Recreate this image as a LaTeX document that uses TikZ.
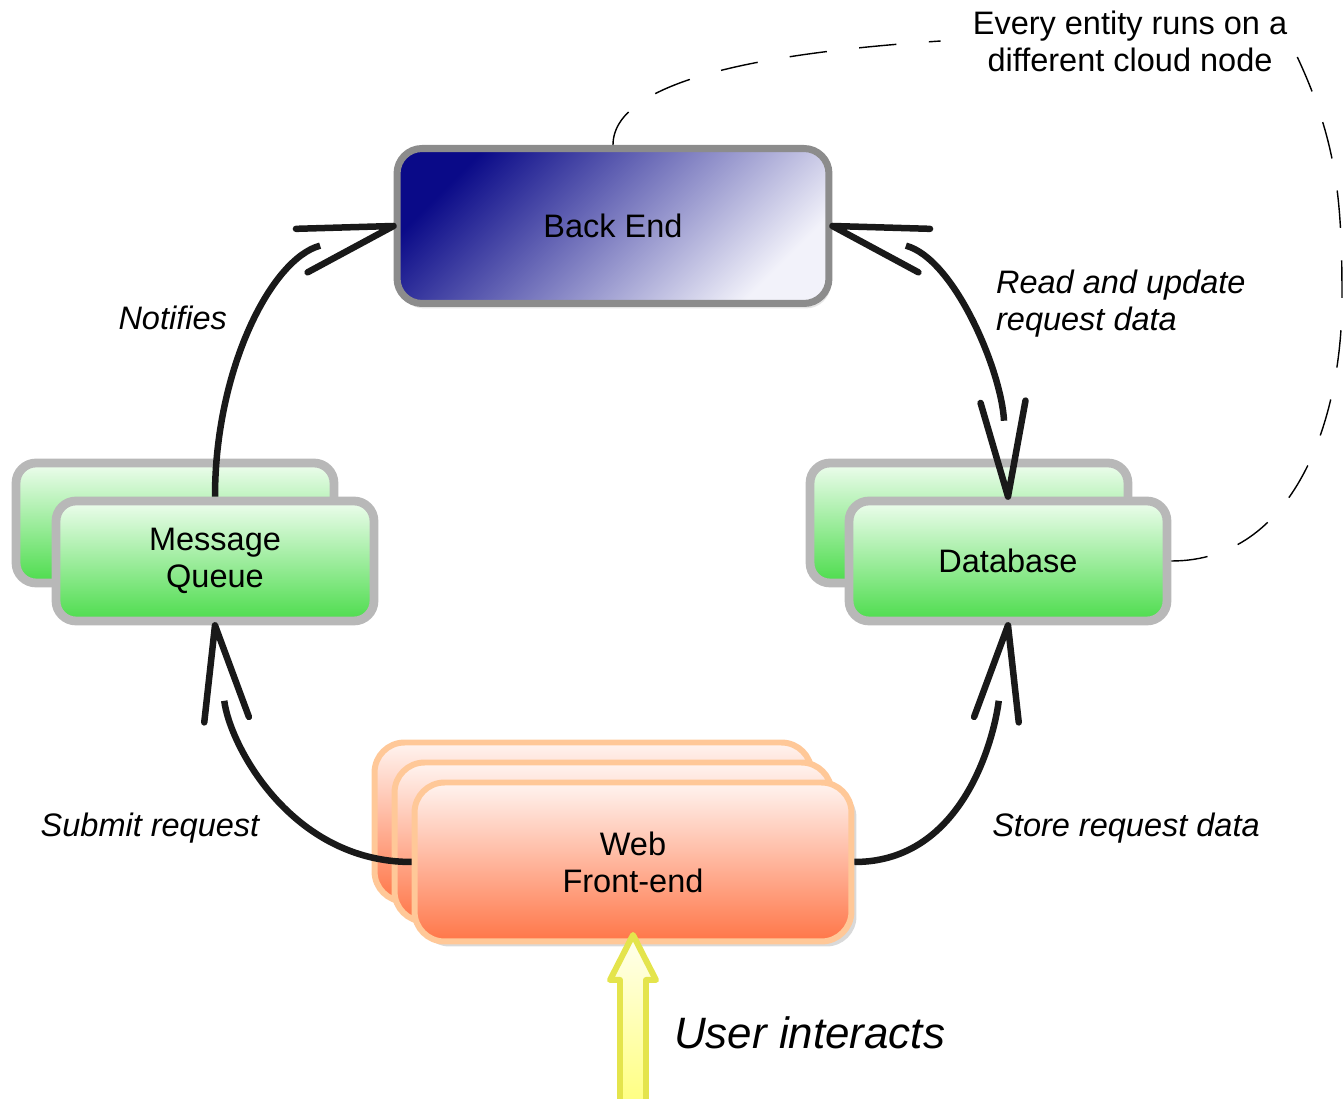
\documentclass[tikz,border=0pt]{standalone}
\usepackage{fontspec}
\setmainfont{Liberation Sans}
\usepackage{tikz}
\usetikzlibrary{arrows.meta, positioning, calc, shadows}
\newcommand{\boxfont}{\fontsize{18.5}{21}\selectfont}
\newcommand{\bigfont}{\fontsize{25}{30}\selectfont}
\definecolor{navyend}{RGB}{10,10,136}
\definecolor{paleend}{RGB}{242,242,250}
\definecolor{greentop}{RGB}{238,253,238}
\definecolor{greenbot}{RGB}{76,220,76}
\definecolor{orangetop}{RGB}{255,244,240}
\definecolor{orangebot}{RGB}{255,118,72}
\definecolor{orangerim}{RGB}{255,200,152}
\definecolor{yellowrim}{RGB}{228,228,76}
\definecolor{yellowtop}{RGB}{255,255,238}
\definecolor{yellowbot}{RGB}{255,255,118}
% open V tip, the line stops inside it
\pgfdeclarearrow{
  name = OpenVee,
  parameters = {\the\pgfarrowlength,\the\pgfarrowwidth},
  setup code = {
    \pgfarrowssettipend{0pt}
    \pgfarrowssetlineend{-0.8\pgfarrowlength}
    \pgfarrowssetbackend{-\pgfarrowlength}
    \pgfarrowssavethe\pgfarrowlength
    \pgfarrowssavethe\pgfarrowwidth
  },
  drawing code = {
    \pgfsetdash{}{+0pt}
    \pgfsetroundcap
    \pgfsetroundjoin
    \pgfpathmoveto{\pgfpoint{-\pgfarrowlength}{.5\pgfarrowwidth}}
    \pgfpathlineto{\pgfpointorigin}
    \pgfpathlineto{\pgfpoint{-\pgfarrowlength}{-.5\pgfarrowwidth}}
    \pgfusepathqstroke
  },
  defaults = {length = 1.9cm, width = 0.9cm}
}
\tikzset{>={OpenVee}}
\tikzset{
  backbox/.style={rectangle, rounded corners=0.5cm, minimum width=8.64cm, minimum height=3.1cm, draw=black!45, line width=4pt, top color=navyend, bottom color=paleend, shading angle=45, drop shadow={opacity=0.2, shadow xshift=0.04cm, shadow yshift=-0.1cm}, font=\boxfont},
  greenbox/.style={rectangle, rounded corners=0.4cm, minimum width=6.36cm, minimum height=2.4cm, draw=black!28, line width=5pt, top color=greentop, bottom color=greenbot, align=center, font=\boxfont},
  webbox/.style={rectangle, rounded corners=0.6cm, minimum width=8.74cm, minimum height=3.18cm, draw=orangerim, line width=3.4pt, top color=orangetop, bottom color=orangebot, drop shadow={opacity=0.3, shadow xshift=0.1cm, shadow yshift=-0.1cm}, align=center, font=\boxfont},
  flow/.style={line width=3.7pt, black!90},
  lbl/.style={inner sep=1pt, align=left, font=\boxfont\itshape},
  cloud/.style={line width=0.8pt, dash pattern=on 0.75cm off 0.65cm},
  userarrow/.style={line width=3.4pt, draw=yellowrim, top color=yellowtop, bottom color=yellowbot, line join=round}
}

\begin{document}
\begin{tikzpicture}[x=0.02cm,y=0.02cm]
	\useasboundingbox (0,0) rectangle (1343,1099);

	\node[greenbox] (mqback) at (175,576) {};
	\node[greenbox] (mq) at (215,538) {Message\\Queue};
	\node[greenbox] (dbback) at (969,576) {};
	\node[greenbox] (db) at (1008,538) {Database};
	\node[webbox] (wfback) at (593,277) {};
	\node[webbox] (wfmid) at (613,257) {};
	\node[webbox] (wf) at (633,237) {Web\\Front-end};
	\node[backbox] (be) at (613,873) {Back End};

	\draw[flow,->] (mq.north) to[out=90,in=195] (be.west);
	\draw[flow,->] (wf.west) to[out=180,in=-83] (mq.south);
	\draw[flow,->] (wf.east) to[out=0,in=-97] (db.south);
	\draw[flow,<->] (be.east) to[out=-15,in=93] (db.north);

	\node[lbl, anchor=east] (notifies) at (229,781) {Notifies};
	\node[lbl] (submit) at (150,271) {Submit request};
	\node[lbl] (store) at (1126,271) {Store request data};
	\node[lbl, anchor=west] (readupd) at (994,795) {Read and update\\request data};
	\node[inner sep=1pt, align=center, font=\boxfont] (note) at (1130,1058) {Every entity runs on a\\different cloud node};
	\node[inner sep=1pt, font=\bigfont\itshape, anchor=west] (user) at (672,66) {User interacts};

	% cloud boundary
	\draw[cloud] (be.north) .. controls +(0,70) and +(-150,-10) .. ([xshift=-0.6cm]note.west);
	\draw[cloud] ([xshift=0.16cm,yshift=-0.32cm]note.east) to[out=-65,in=90] (1342,800) to[out=-90,in=0] (db.east);

	\draw[userarrow] ([yshift=0.19cm]wf.south) -- ++(23,-45) -- ++(-10,0) -- ++(0,-140) -- ++(-26,0) -- ++(0,140) -- ++(-10,0) -- cycle;
\end{tikzpicture}
\end{document}
